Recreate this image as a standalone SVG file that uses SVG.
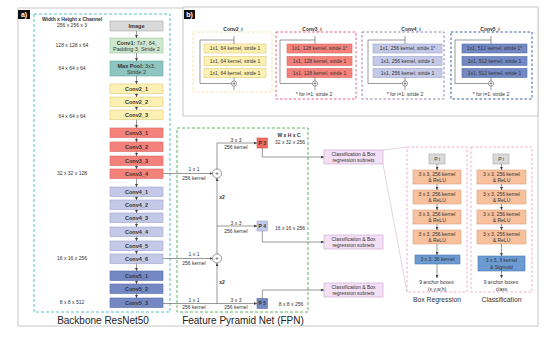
<svg xmlns="http://www.w3.org/2000/svg" width="550" height="338" viewBox="0 0 550 338">
<defs>
<style>
text{font-family:"Liberation Sans",Arial,sans-serif;fill:#333;text-anchor:middle}
.b{font-weight:bold}
.s5{font-size:5px}
.s55{font-size:5.5px}
.big{font-size:10px;fill:#222}
.lbl{font-size:7px;font-weight:bold;fill:#fff}
.ln{fill:none;stroke:#555;stroke-width:0.6}
.fun{fill:none;stroke:#dcc8dc;stroke-width:0.8}
.img{fill:#d9d9d9;stroke:#a8a8a8;stroke-width:0.6}
.c1{fill:#cfe7cf;stroke:#9cc79c;stroke-width:0.6}
.mp{fill:#8ec5c0;stroke:#6aa8a3;stroke-width:0.6}
.c2{fill:#fcf0b2;stroke:#dccb78;stroke-width:0.6}
.c3{fill:#f4827b;stroke:#d96560;stroke-width:0.6}
.c4{fill:#c4c9e7;stroke:#9da3cc;stroke-width:0.6}
.c5{fill:#7489c4;stroke:#566ca6;stroke-width:0.6}
.cls{fill:#f4e0f4;stroke:#c9a3cb;stroke-width:0.6}
.or{fill:#f8c19d;stroke:#e0a17e;stroke-width:0.6}
.bl{fill:#6c9bd2;stroke:#4b7bb2;stroke-width:0.6}
.frame{fill:none;stroke:#c8c8c8;stroke-width:1}
.dcy{fill:none;stroke:#55c2ca;stroke-width:1;stroke-dasharray:3,2}
.dgr{fill:none;stroke:#5cb85c;stroke-width:1;stroke-dasharray:3,2}
.dpk{fill:none;stroke:#e79ac0;stroke-width:0.8;stroke-dasharray:2.5,2}
.dye{fill:none;stroke:#f2e2a0;stroke-width:1;stroke-dasharray:2.5,2}
.drd{fill:none;stroke:#e85f86;stroke-width:1;stroke-dasharray:2.5,2}
.dpu{fill:none;stroke:#9a7fb2;stroke-width:1;stroke-dasharray:2.5,2}
.dbl{fill:none;stroke:#3b5ea8;stroke-width:1;stroke-dasharray:2.5,2}
.circ{fill:#fff;stroke:#555;stroke-width:0.6}
</style>
<marker id="ah" markerWidth="3" markerHeight="3" refX="3" refY="1.5" orient="auto" markerUnits="userSpaceOnUse">
<path d="M0,0 L3,1.5 L0,3 z" fill="#444"/>
</marker>
</defs>
<rect x="0" y="0" width="550" height="338" fill="#fff"/>

<!-- frames -->
<rect class="frame" x="18" y="8" width="520" height="318"/>
<rect x="183" y="7" width="355" height="109" fill="#fff" stroke="#c8c8c8" stroke-width="1"/>
<g id="label-a"><rect x="18" y="10" width="12" height="9" fill="#111"/><text class="lbl" x="24" y="17">a)</text></g>
<g id="label-b"><rect x="184" y="10" width="11" height="9" fill="#111"/><text class="lbl" x="189.5" y="17">b)</text></g>

<!-- backbone -->
<g id="backbone">
<rect class="dcy" x="34" y="14" width="136" height="298"/>
<text class="b s5" x="72" y="21">Width x Height x Channel</text>
<text class="s5" x="72" y="27">256 x 256 x 3</text>
<text class="s5" x="72" y="46.5">128 x 128 x 64</text>
<text class="s5" x="72" y="70">64 x 64 x 64</text>
<text class="s5" x="72" y="118">64 x 64 x 64</text>
<text class="s5" x="72" y="175">32 x 32 x 128</text>
<text class="s5" x="72" y="260">16 x 16 x 256</text>
<text class="s5" x="72" y="304">8 x 8 x 512</text>
<text class="big" x="103" y="324">Backbone ResNet50</text>
</g>
<g id="image"><rect class="img" x="110" y="21" width="53" height="10"/><text class="b s55" x="136.5" y="28">Image</text></g>
<g id="conv1"><rect class="c1" x="110" y="38" width="53" height="15"/><text class="s55" x="136.5" y="44.5"><tspan class="b">Conv1:</tspan> 7x7, 64,</text><text class="s55" x="136.5" y="51">Padding 3, Stride 2</text></g>
<g id="maxpool"><rect class="mp" x="110" y="61" width="53" height="15"/><text class="s55" x="136.5" y="67.5"><tspan class="b">Max Pool:</tspan> 3x3,</text><text class="s55" x="136.5" y="74">Stride 2</text></g>
<g id="conv2_1"><rect class="c2" x="110" y="84" width="53" height="9.5"/><text class="b s55" x="136.5" y="90.7">Conv2_1</text></g>
<g id="conv2_2"><rect class="c2" x="110" y="97" width="53" height="9.5"/><text class="b s55" x="136.5" y="103.7">Conv2_2</text></g>
<g id="conv2_3"><rect class="c2" x="110" y="110" width="53" height="9.5"/><text class="b s55" x="136.5" y="116.7">Conv2_3</text></g>
<g id="conv3_1"><rect class="c3" x="110" y="128" width="53" height="9.5"/><text class="b s55" x="136.5" y="134.7">Conv3_1</text></g>
<g id="conv3_2"><rect class="c3" x="110" y="142" width="53" height="9.5"/><text class="b s55" x="136.5" y="148.7">Conv3_2</text></g>
<g id="conv3_3"><rect class="c3" x="110" y="156" width="53" height="9.5"/><text class="b s55" x="136.5" y="162.7">Conv3_3</text></g>
<g id="conv3_4"><rect class="c3" x="110" y="169" width="53" height="9.5"/><text class="b s55" x="136.5" y="175.7">Conv3_4</text></g>
<g id="conv4_1"><rect class="c4" x="110" y="187" width="53" height="9.5"/><text class="b s55" x="136.5" y="193.7">Conv4_1</text></g>
<g id="conv4_2"><rect class="c4" x="110" y="200" width="53" height="9.5"/><text class="b s55" x="136.5" y="206.7">Conv4_2</text></g>
<g id="conv4_3"><rect class="c4" x="110" y="213" width="53" height="9.5"/><text class="b s55" x="136.5" y="219.7">Conv4_3</text></g>
<g id="conv4_4"><rect class="c4" x="110" y="227" width="53" height="9.5"/><text class="b s55" x="136.5" y="233.7">Conv4_4</text></g>
<g id="conv4_5"><rect class="c4" x="110" y="241" width="53" height="9.5"/><text class="b s55" x="136.5" y="247.7">Conv4_5</text></g>
<g id="conv4_6"><rect class="c4" x="110" y="254" width="53" height="9.5"/><text class="b s55" x="136.5" y="260.7">Conv4_6</text></g>
<g id="conv5_1"><rect class="c5" x="110" y="271" width="53" height="9.5"/><text class="b s55" x="136.5" y="277.7">Conv5_1</text></g>
<g id="conv5_2"><rect class="c5" x="110" y="284" width="53" height="9.5"/><text class="b s55" x="136.5" y="290.7">Conv5_2</text></g>
<g id="conv5_3"><rect class="c5" x="110" y="298" width="53" height="9.5"/><text class="b s55" x="136.5" y="304.7">Conv5_3</text></g>

<!-- FPN -->
<g id="fpn">
<rect class="dgr" x="177" y="128" width="131" height="184"/>
<text class="big" x="243" y="324">Feature Pyramid Net (FPN)</text>
<text class="b s5" x="289" y="137">W x H x C</text>
<text class="s5" x="290" y="144">32 x 32 x 256</text>
<text class="s5" x="290" y="230">16 x 16 x 256</text>
<text class="s5" x="291" y="306">8 x 8 x 256</text>
<text class="s5" x="194" y="171">1 x 1</text><text class="s5" x="194" y="179.5">256 kernel</text>
<text class="s5" x="194" y="256">1 x 1</text><text class="s5" x="194" y="264.5">256 kernel</text>
<text class="s5" x="194" y="301.5">1 x 1</text><text class="s5" x="194" y="309">256 kernel</text>
<text class="s5" x="236" y="141.5">3 x 3</text><text class="s5" x="236" y="149">256 kernel</text>
<text class="s5" x="236" y="224.5">3 x 3</text><text class="s5" x="236" y="232.5">256 kernel</text>
<text class="s5" x="236" y="301.5">3 x 3</text><text class="s5" x="236" y="309">256 kernel</text>
<text class="b s5" x="222" y="198.5">x2</text>
<text class="b s5" x="222" y="284">x2</text>
</g>
<g id="add1"><circle class="circ" cx="217" cy="173.5" r="4.5"/><path class="ln" d="M215.5,173.5 H218.5 M217,172 V175"/></g>
<g id="add2"><circle class="circ" cx="217" cy="258.5" r="4.5"/><path class="ln" d="M215.5,258.5 H218.5 M217,257 V260"/></g>
<g id="p3"><rect x="257" y="138" width="10.5" height="10" fill="#f06b60" stroke="#d45050" stroke-width="0.6"/><text class="b s5" x="262.3" y="144.8">P 3</text></g>
<g id="p4"><rect class="c4" x="257" y="221" width="10.5" height="10"/><text class="b s5" x="262.3" y="227.8">P 4</text></g>
<g id="p5"><rect class="c5" x="257" y="298.5" width="10.5" height="10"/><text class="b s5" x="262.3" y="305.3">P 5</text></g>
<g id="subnet1"><rect class="cls" x="324" y="150" width="59" height="14"/><text class="s5" x="353.5" y="156">Classification &amp; Box</text><text class="s5" x="353.5" y="162">regression subnets</text></g>
<g id="subnet2"><rect class="cls" x="324" y="235" width="59" height="14"/><text class="s5" x="353.5" y="241">Classification &amp; Box</text><text class="s5" x="353.5" y="247">regression subnets</text></g>
<g id="subnet3"><rect class="cls" x="324" y="283" width="59" height="14"/><text class="s5" x="353.5" y="289">Classification &amp; Box</text><text class="s5" x="353.5" y="295">regression subnets</text></g>

<!-- head detail -->
<g id="box-regression">
<rect class="dpk" x="407" y="147" width="60" height="145"/>
<text style="font-size:6.8px" x="437" y="302">Box Regression</text>
<text class="s5" x="437" y="284">9 anchor boxes:</text>
<text class="s5" x="437" y="290.5">(x,y,w,h)</text>
</g>
<g id="classification">
<rect class="dpk" x="471" y="147" width="61" height="145"/>
<text style="font-size:6.8px" x="501.5" y="302">Classification</text>
<text class="s5" x="501.5" y="284">9 anchor boxes:</text>
<text class="s5" x="501.5" y="290.5">class</text>
</g>
<g id="pi-reg"><rect class="img" x="429" y="154" width="16" height="10"/><text class="s5" x="437" y="160.8">P i</text></g>
<g id="pi-cls"><rect class="img" x="493" y="154" width="16" height="10"/><text class="s5" x="501" y="160.8">P i</text></g>
<g id="reg-conv1"><rect class="or" x="413" y="170" width="48" height="14"/><text class="s5" x="437" y="176">3 x 3, 256 kernel</text><text class="s5" x="437" y="182">&amp; ReLU</text></g>
<g id="reg-conv2"><rect class="or" x="413" y="190" width="48" height="14"/><text class="s5" x="437" y="196">3 x 3, 256 kernel</text><text class="s5" x="437" y="202">&amp; ReLU</text></g>
<g id="reg-conv3"><rect class="or" x="413" y="210" width="48" height="14"/><text class="s5" x="437" y="216">3 x 3, 256 kernel</text><text class="s5" x="437" y="222">&amp; ReLU</text></g>
<g id="reg-conv4"><rect class="or" x="413" y="230" width="48" height="14"/><text class="s5" x="437" y="236">3 x 3, 256 kernel</text><text class="s5" x="437" y="242">&amp; ReLU</text></g>
<g id="reg-out"><rect class="bl" x="415" y="255" width="45" height="9"/><text class="s5" x="437.5" y="261.3">3 x 3, 36 kernel</text></g>
<g id="cls-conv1"><rect class="or" x="477" y="170" width="49" height="14"/><text class="s5" x="501.5" y="176">3 x 3, 256 kernel</text><text class="s5" x="501.5" y="182">&amp; ReLU</text></g>
<g id="cls-conv2"><rect class="or" x="477" y="190" width="49" height="14"/><text class="s5" x="501.5" y="196">3 x 3, 256 kernel</text><text class="s5" x="501.5" y="202">&amp; ReLU</text></g>
<g id="cls-conv3"><rect class="or" x="477" y="210" width="49" height="14"/><text class="s5" x="501.5" y="216">3 x 3, 256 kernel</text><text class="s5" x="501.5" y="222">&amp; ReLU</text></g>
<g id="cls-conv4"><rect class="or" x="477" y="230" width="49" height="14"/><text class="s5" x="501.5" y="236">3 x 3, 256 kernel</text><text class="s5" x="501.5" y="242">&amp; ReLU</text></g>
<g id="cls-out"><rect class="bl" x="478" y="256" width="47" height="15"/><text class="s5" x="501.5" y="262">3 x 3, 9 kernel</text><text class="s5" x="501.5" y="268.5">&amp; Sigmoid</text></g>

<!-- b) blocks -->
<g id="conv2_i">
<text class="b s5" x="233" y="30.5">Conv2_i</text>
<rect class="dye" x="193" y="32" width="79" height="60"/>
<rect class="c2" x="204" y="44" width="62" height="9"/><text class="s5" x="235" y="50.3">1x1, 64 kernel, stride 1</text>
<rect class="c2" x="204" y="56.5" width="62" height="9"/><text class="s5" x="235" y="62.8">1x1, 64 kernel, stride 1</text>
<rect class="c2" x="204" y="68.5" width="62" height="9"/><text class="s5" x="235" y="74.8">1x1, 64 kernel, stride 1</text>
</g>
<g id="conv3_i">
<text class="b s5" x="312" y="30.5">Conv3_i</text>
<rect class="drd" x="276" y="32" width="80" height="67"/>
<rect class="c3" x="287" y="44" width="65" height="9"/><text class="s5" x="319.5" y="50.3">1x1, 128 kernel, stride 1*</text>
<rect class="c3" x="287" y="56.5" width="65" height="9"/><text class="s5" x="319.5" y="62.8">1x1, 128 kernel, stride 1</text>
<rect class="c3" x="287" y="68.5" width="65" height="9"/><text class="s5" x="319.5" y="74.8">1x1, 128 kernel, stride 1</text>
<text class="s5" x="314" y="95.5">* for i=1: stride 2</text>
</g>
<g id="conv4_i">
<text class="b s5" x="411" y="30.5">Conv4_i</text>
<rect class="dpu" x="362" y="32" width="82" height="67"/>
<rect class="c4" x="373" y="44" width="69" height="9"/><text class="s5" x="407.5" y="50.3">1x1, 256 kernel, stride 1*</text>
<rect class="c4" x="373" y="56.5" width="69" height="9"/><text class="s5" x="407.5" y="62.8">1x1, 256 kernel, stride 1</text>
<rect class="c4" x="373" y="68.5" width="69" height="9"/><text class="s5" x="407.5" y="74.8">1x1, 256 kernel, stride 1</text>
<text class="s5" x="405" y="95.5">* for i=1: stride 2</text>
</g>
<g id="conv5_i">
<text class="b s5" x="490" y="30.5">Conv5_i</text>
<rect class="dbl" x="451" y="32" width="81" height="67"/>
<rect class="c5" x="462" y="44" width="65" height="9"/><text class="s5" x="494.5" y="50.3">1x1, 512 kernel, stride 1*</text>
<rect class="c5" x="462" y="56.5" width="65" height="9"/><text class="s5" x="494.5" y="62.8">1x1, 512 kernel, stride 1</text>
<rect class="c5" x="462" y="68.5" width="65" height="9"/><text class="s5" x="494.5" y="74.8">1x1, 512 kernel, stride 1</text>
<text class="s5" x="491" y="95.5">* for i=1: stride 2</text>
</g>
<g id="sum2"><circle class="circ" cx="234" cy="83.5" r="2.6"/><path class="ln" d="M232.6,83.5 H235.4 M234,82.1 V84.9"/></g>
<g id="sum3"><circle class="circ" cx="315" cy="83.5" r="2.6"/><path class="ln" d="M313.6,83.5 H316.4 M315,82.1 V84.9"/></g>
<g id="sum4"><circle class="circ" cx="405" cy="83.5" r="2.6"/><path class="ln" d="M403.6,83.5 H406.4 M405,82.1 V84.9"/></g>
<g id="sum5"><circle class="circ" cx="491" cy="83.5" r="2.6"/><path class="ln" d="M489.6,83.5 H492.4 M491,82.1 V84.9"/></g>

<!-- connectors -->
<g id="connectors">
<path class="ln" marker-end="url(#ah)" d="M136.5,31 V38"/>
<path class="ln" marker-end="url(#ah)" d="M136.5,53 V61"/>
<path class="ln" marker-end="url(#ah)" d="M136.5,76 V84"/>
<path class="ln" marker-end="url(#ah)" d="M136.5,93.5 V97"/>
<path class="ln" marker-end="url(#ah)" d="M136.5,106.5 V110"/>
<path class="ln" marker-end="url(#ah)" d="M136.5,119.5 V128"/>
<path class="ln" marker-end="url(#ah)" d="M136.5,137.5 V142"/>
<path class="ln" marker-end="url(#ah)" d="M136.5,151.5 V156"/>
<path class="ln" marker-end="url(#ah)" d="M136.5,165.5 V169"/>
<path class="ln" marker-end="url(#ah)" d="M136.5,178.5 V187"/>
<path class="ln" marker-end="url(#ah)" d="M136.5,196.5 V200"/>
<path class="ln" marker-end="url(#ah)" d="M136.5,209.5 V213"/>
<path class="ln" marker-end="url(#ah)" d="M136.5,222.5 V227"/>
<path class="ln" marker-end="url(#ah)" d="M136.5,236.5 V241"/>
<path class="ln" marker-end="url(#ah)" d="M136.5,250.5 V254"/>
<path class="ln" marker-end="url(#ah)" d="M136.5,263.5 V271"/>
<path class="ln" marker-end="url(#ah)" d="M136.5,280.5 V284"/>
<path class="ln" marker-end="url(#ah)" d="M136.5,293.5 V298"/>
<!-- FPN -->
<path class="ln" marker-end="url(#ah)" d="M163,173.5 H212.5"/>
<path class="ln" marker-end="url(#ah)" d="M163,258.5 H212.5"/>
<path class="ln" marker-end="url(#ah)" d="M163,303.5 H257"/>
<path class="ln" marker-end="url(#ah)" d="M217,169 V143 H257"/>
<path class="ln" marker-end="url(#ah)" d="M217,254 V178"/>
<path class="ln" marker-end="url(#ah)" d="M217,303.5 V263"/>
<path class="ln" marker-end="url(#ah)" d="M217,226 H257"/>
<path class="ln" marker-end="url(#ah)" d="M262.3,148 V157 H324"/>
<path class="ln" marker-end="url(#ah)" d="M262.3,231 V242 H324"/>
<path class="ln" marker-end="url(#ah)" d="M262.3,298.5 V290 H324"/>
<!-- funnel -->
<path class="fun" d="M383,150 L407,147"/>
<path class="fun" d="M383,164 L407,292"/>
<!-- head arrows -->
<path class="ln" marker-end="url(#ah)" d="M437,164 V170"/>
<path class="ln" marker-end="url(#ah)" d="M437,184 V190"/>
<path class="ln" marker-end="url(#ah)" d="M437,204 V210"/>
<path class="ln" marker-end="url(#ah)" d="M437,224 V230"/>
<path class="ln" marker-end="url(#ah)" d="M437,244 V255"/>
<path class="ln" marker-end="url(#ah)" d="M437,264 V278"/>
<path class="ln" marker-end="url(#ah)" d="M501.5,164 V170"/>
<path class="ln" marker-end="url(#ah)" d="M501.5,184 V190"/>
<path class="ln" marker-end="url(#ah)" d="M501.5,204 V210"/>
<path class="ln" marker-end="url(#ah)" d="M501.5,224 V230"/>
<path class="ln" marker-end="url(#ah)" d="M501.5,244 V256"/>
<path class="ln" marker-end="url(#ah)" d="M501.5,271 V278"/>
<!-- residual skips -->
<path class="ln" d="M234,36 V44 M234,40 H200 V83.5 H231.4 M234,77.5 V80.9 M234,86.1 V90"/>
<path class="ln" d="M315,36 V44 M315,40 H280 V83.5 H312.4 M315,77.5 V80.9 M315,86.1 V90"/>
<path class="ln" d="M405,36 V44 M405,40 H368 V83.5 H402.4 M405,77.5 V80.9 M405,86.1 V90"/>
<path class="ln" d="M491,36 V44 M491,40 H455 V83.5 H488.4 M491,77.5 V80.9 M491,86.1 V90"/>
</g>
</svg>
